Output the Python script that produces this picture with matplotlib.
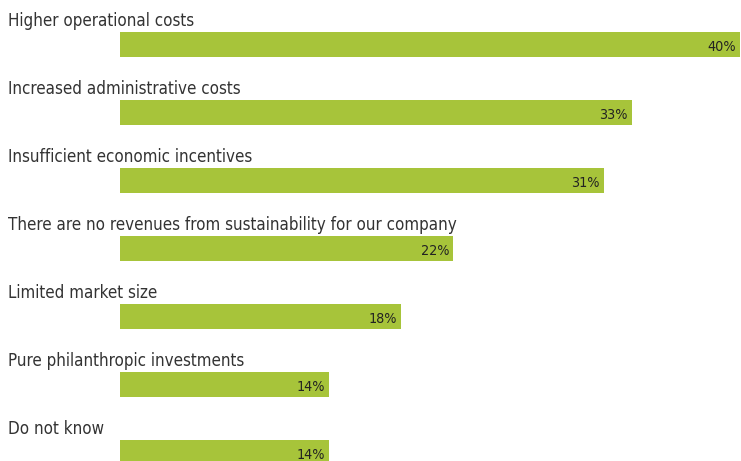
import matplotlib.pyplot as plt
from matplotlib import transforms
import numpy as np

categories = [
    "Higher operational costs",
    "Increased administrative costs",
    "Insufficient economic incentives",
    "There are no revenues from sustainability for our company",
    "Limited market size",
    "Pure philanthropic investments",
    "Do not know",
]
values = [40, 33, 31.2, 21.5, 18.1, 13.5, 13.5]
value_labels = ["40%", "33%", "31%", "22%", "18%", "14%", "14%"]

bar_color = "#a7c43a"
text_color = "#333333"

plt.rcParams['font.family'] = ['DejaVu Sans']
plt.rcParams['font.stretch'] = 'condensed'

fig = plt.figure(figsize=(7.41, 4.61), dpi=100)
ax = fig.add_axes([120 / 741, 0, 620 / 741, 1])
ax.set_xlim(0, 40)
ax.set_ylim(461, 0)
ax.axis('off')

# layout in pixels: rows every 68 px, bar 25 px tall
centers = 44.5 + 68 * np.arange(len(categories))
ax.barh(centers, values, height=25, color=bar_color, left=0)

trans = transforms.blended_transform_factory(fig.transFigure, ax.transData)
for c, cat, v, lab in zip(centers, categories, values, value_labels):
    ax.text(8 / 741, c - 19, cat, transform=trans, ha='left', va='baseline',
            fontsize=12.2, color=text_color, fontstretch='condensed')
    ax.text(v - 0.25, c + 6.5, lab, ha='right', va='baseline',
            fontsize=10.3, color="#222222", fontstretch='condensed')

fig.savefig("out.png", dpi=100)
